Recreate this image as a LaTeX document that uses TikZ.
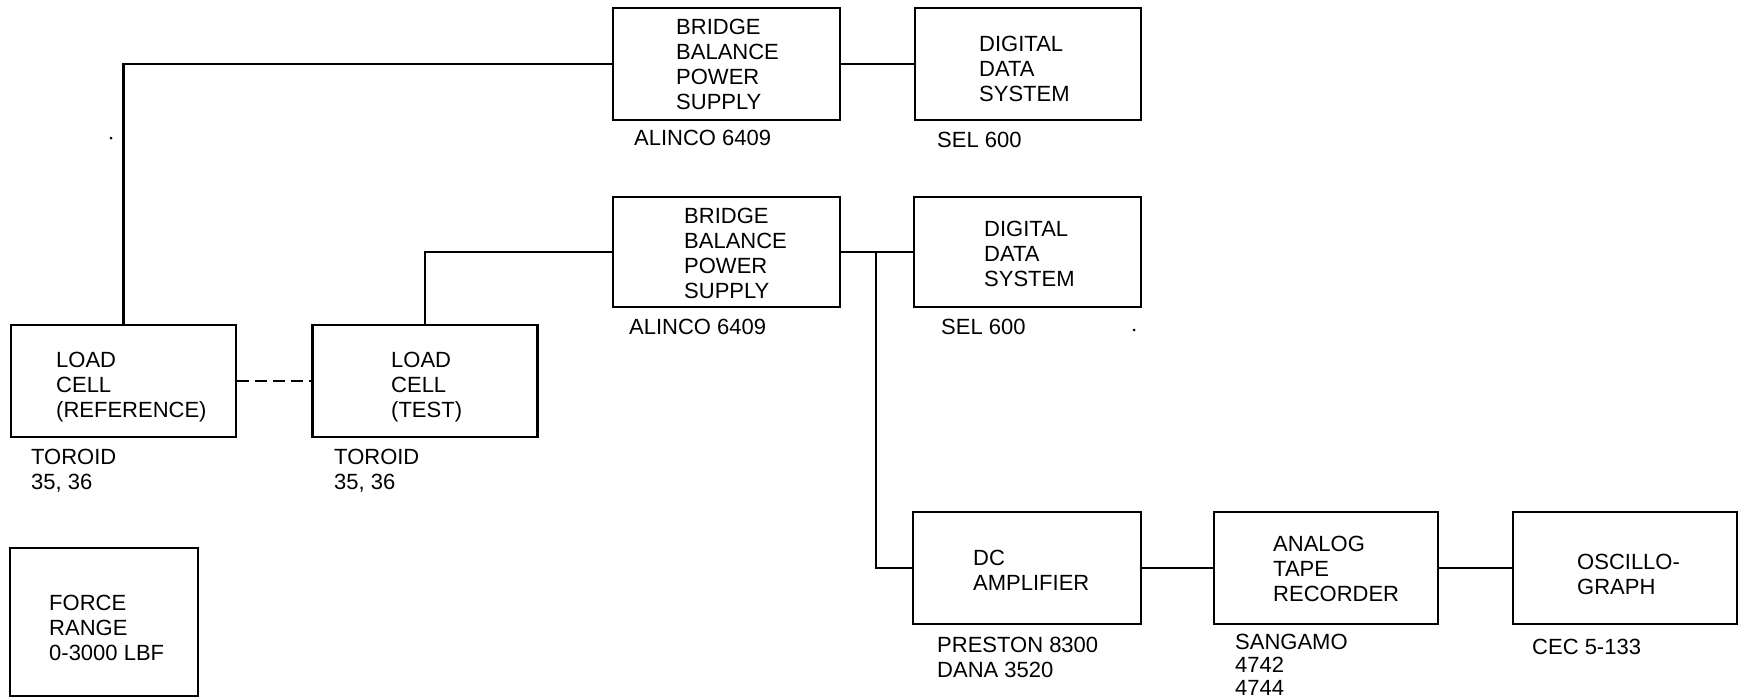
\documentclass[tikz,border=0pt]{standalone}
\usepackage{fontspec}
\setmainfont{Liberation Sans}
\begin{document}
\begin{tikzpicture}[x=1pt,y=-1pt,
  box/.style={draw,line width=2.8pt,inner sep=0pt},
  wire/.style={line width=2.8pt},
  txt/.style={anchor=north west,inner sep=0pt,align=left,font=\fontsize{22}{25}\selectfont},
  speck/.style={fill=black,inner sep=0pt,circle,minimum size=3pt}]
\useasboundingbox (0,0) rectangle (1740,699);
\clip (0,0) rectangle (1740,699);
% boxes
\node[box,minimum width=227pt,minimum height=112pt] (bbA) at (726.5,64) {};
\node[box,minimum width=226pt,minimum height=112pt] (ddA) at (1028,64) {};
\node[box,minimum width=227pt,minimum height=110pt] (bbB) at (726.5,252) {};
\node[box,minimum width=227pt,minimum height=110pt] (ddB) at (1027.5,252) {};
\node[box,minimum width=225pt,minimum height=112pt] (lcR) at (123.5,381) {};
\node[box,minimum width=225pt,minimum height=112pt] (lcT) at (425,381) {};
\node[box,minimum width=188pt,minimum height=148pt] (force) at (104,622) {};
\node[box,minimum width=228pt,minimum height=112pt] (dc) at (1027,568) {};
\node[box,minimum width=224pt,minimum height=112pt] (atr) at (1326,568) {};
\node[box,minimum width=224pt,minimum height=112pt] (osc) at (1625,568) {};
% texts inside boxes
\node[txt] (tbbA) at (676,19) {BRIDGE\\BALANCE\\POWER\\SUPPLY};
\node[txt] (tbbB) at (684,208) {BRIDGE\\BALANCE\\POWER\\SUPPLY};
\node[txt] (tddA) at (979,36) {DIGITAL\\DATA\\SYSTEM};
\node[txt] (tddB) at (984,221) {DIGITAL\\DATA\\SYSTEM};
\node[txt] (tlcR) at (56,352) {LOAD\\CELL\\(REFERENCE)};
\node[txt] (tlcT) at (391,352) {LOAD\\CELL\\(TEST)};
\node[txt] (tforce) at (49,595) {FORCE\\RANGE\\0-3000 LBF};
\node[txt] (tdc) at (973,550) {DC\\AMPLIFIER};
\node[txt] (tatr) at (1273,536) {ANALOG\\TAPE\\RECORDER};
\node[txt] (tosc) at (1577,554) {OSCILLO-\\GRAPH};
% labels under boxes
\node[txt] (lbbA) at (634,130) {ALINCO 6409};
\node[txt] (lbbB) at (629,319) {ALINCO 6409};
\node[txt] (lddA) at (937,132) {SEL 600};
\node[txt] (lddB) at (941,319) {SEL 600};
\node[txt] (llcR) at (31,449) {TOROID\\35, 36};
\node[txt] (llcT) at (334,449) {TOROID\\35, 36};
\node[txt] (ldc) at (937,637) {PRESTON 8300\\DANA 3520};
\node[txt,font=\fontsize{22}{23}\selectfont] (latr) at (1235,634) {SANGAMO\\4742\\4744};
\node[txt] (losc) at (1532,639) {CEC 5-133};
% connectors
\draw[wire] (lcR.north) |- (bbA.west);
\draw[wire] (lcT.north) |- (bbB.west);
\draw[wire] (bbA.east) -- (ddA.west);
\draw[wire] (bbB.east) -- (ddB.west);
\coordinate (j) at (876,252);
\draw[wire] (j) |- (dc.west);
\draw[wire] (dc.east) -- (atr.west);
\draw[wire] (atr.east) -- (osc.west);
\draw[wire,dash pattern=on 12pt off 6pt] (lcR.east) -- (lcT.west);
% specks
\node[speck] (s1) at (111,138) {};
\node[speck] (s2) at (1134,330) {};
\end{tikzpicture}
\end{document}
